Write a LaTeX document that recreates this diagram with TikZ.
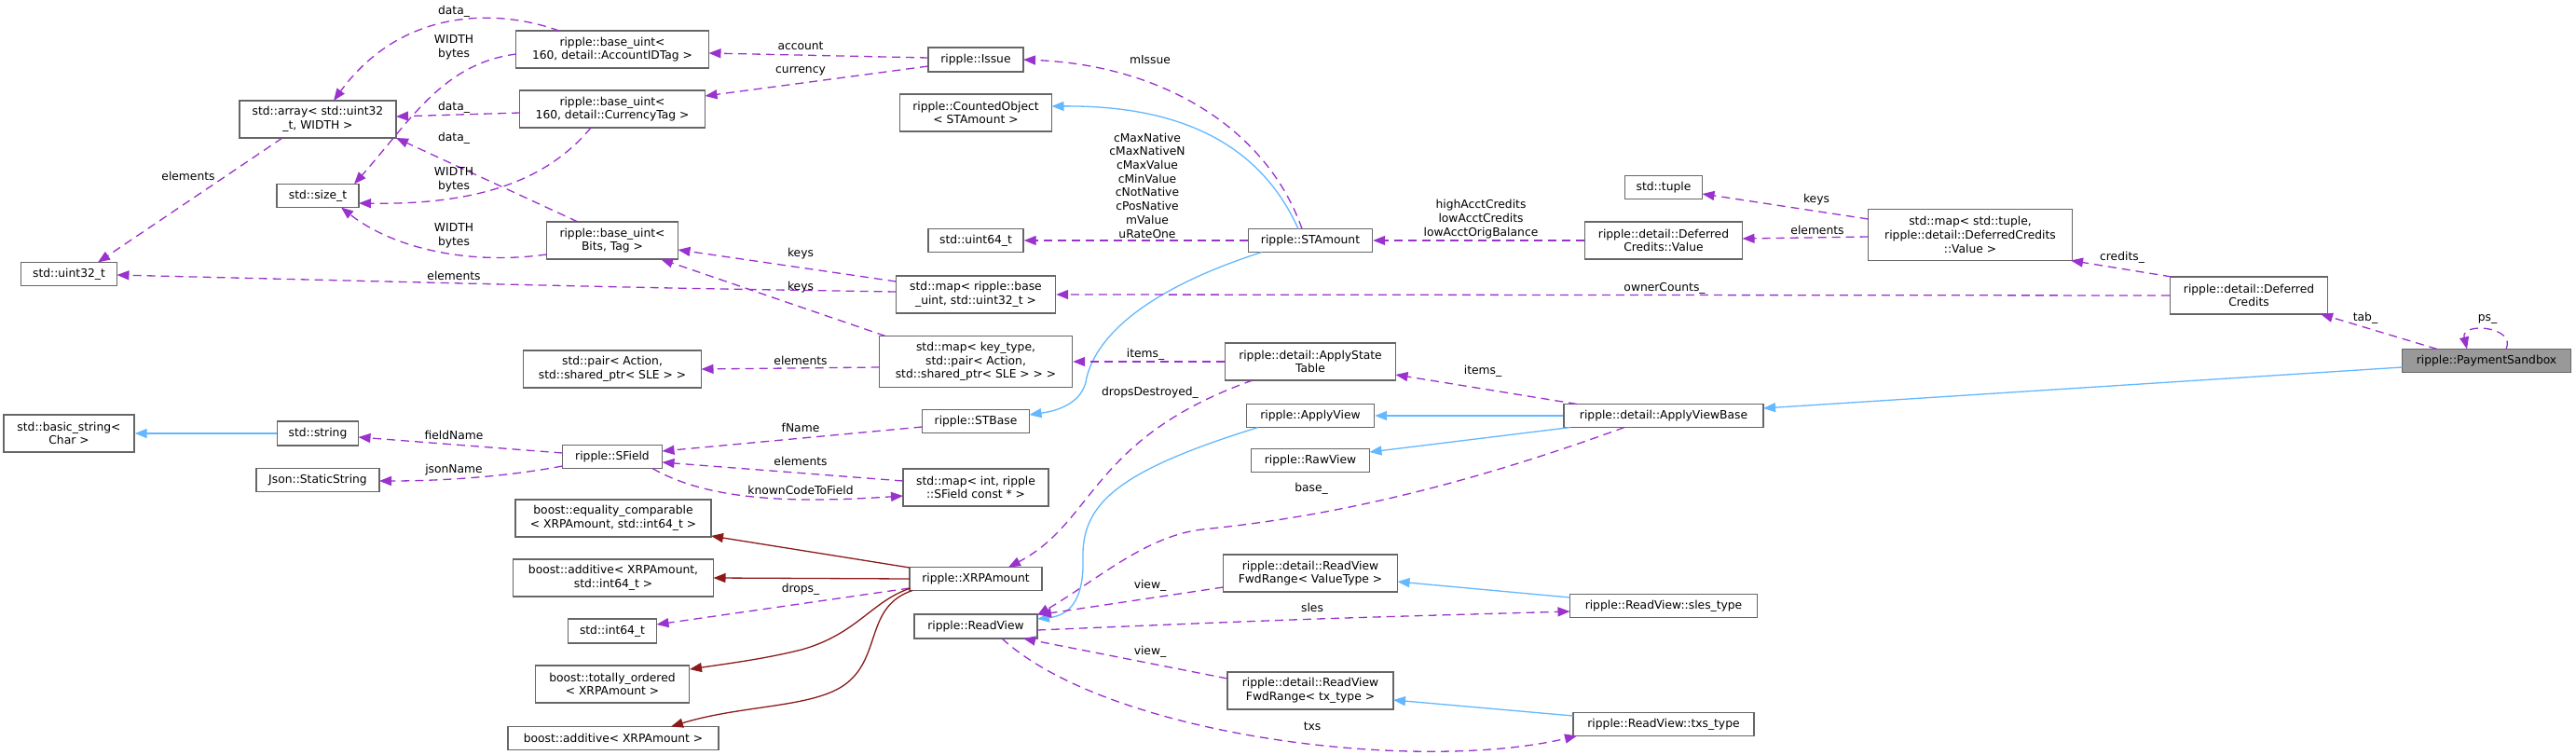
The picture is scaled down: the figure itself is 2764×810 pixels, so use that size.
\documentclass[tikz,border=0pt]{standalone}
\usepackage{fontspec}
\setmainfont{DejaVu Sans}
\usetikzlibrary{arrows.meta,calc}
\definecolor{purp}{HTML}{9A32CD}
\definecolor{inhc}{HTML}{63B8FF}
\definecolor{tmpl}{HTML}{8B1A1A}
\definecolor{bordg}{HTML}{666666}
\definecolor{psfill}{HTML}{999999}
\newcommand\dgf{\fontsize{12.3}{14.7}\selectfont}
\newcommand\nb[6]{\node[box,minimum width=#4pt,minimum height=#5pt] (#1) at (#2,#3) {#6};}
\newcommand\lb[4]{\node[lbl] (#1) at (#2,#3) {#4};}
\begin{document}
\begin{tikzpicture}[x=1pt,y=-1pt,
 box/.style={draw=bordg,line width=1.4pt,fill=white,align=center,inner sep=0pt,font=\dgf},
 lbl/.style={inner sep=0pt,align=center,font=\dgf},
 use/.style={draw=purp,line width=1.3pt,dash pattern=on 9pt off 6pt,-{Triangle[length=13pt,width=10pt]}},
 inher/.style={draw=inhc,line width=1.3pt,-{Triangle[length=13pt,width=10pt]}},
 tpl/.style={draw=tmpl,line width=1.3pt,-{Triangle[length=13pt,width=10pt]}}]
\useasboundingbox[fill=white] (0,0) rectangle (2764,810);
% nodes
\nb{arr}{341}{128}{168}{40}{std::array< std::uint32\\\_t, WIDTH >}
\nb{sizet}{341}{210}{88}{25}{std::size\_t}
\nb{u32}{74}{294}{103}{25}{std::uint32\_t}
\nb{acct}{657}{53}{207}{40}{ripple::base\_uint<\\160, detail::AccountIDTag >}
\nb{curr}{657}{117}{199}{40}{ripple::base\_uint<\\160, detail::CurrencyTag >}
\nb{bits}{657}{258}{141}{40}{ripple::base\_uint<\\Bits, Tag >}
\nb{pair}{657}{396}{191}{40}{std::pair< Action,\\std::shared\_ptr< SLE > >}
\nb{bstr}{74}{465}{140}{40}{std::basic\_string<\\Char >}
\nb{str}{341}{465}{87}{26}{std::string}
\nb{json}{341}{515}{132}{25}{Json::StaticString}
\nb{sfield}{657}{490}{107}{25}{ripple::SField}
\nb{eqc}{658}{556}{210}{40}{boost::equality\_comparable\\< XRPAmount, std::int64\_t >}
\nb{add1}{658}{620}{215}{40}{boost::additive< XRPAmount,\\std::int64\_t >}
\nb{i64}{657}{677}{95}{26}{std::int64\_t}
\nb{tot}{657}{734}{165}{40}{boost::totally\_ordered\\< XRPAmount >}
\nb{add2}{658}{792}{226}{25}{boost::additive< XRPAmount >}
\nb{issue}{1047}{64}{102}{26}{ripple::Issue}
\nb{cobj}{1047}{121}{163}{40}{ripple::CountedObject\\< STAmount >}
\nb{u64}{1047}{258}{102}{25}{std::uint64\_t}
\nb{stam}{1406}{258}{133}{25}{ripple::STAmount}
\nb{mapbu}{1047}{316}{171}{40}{std::map< ripple::base\\\_uint, std::uint32\_t >}
\nb{mapkt}{1047}{388}{207}{55}{std::map< key\_type,\\std::pair< Action,\\std::shared\_ptr< SLE > > >}
\nb{ast}{1406}{388}{183}{40}{ripple::detail::ApplyState\\Table}
\nb{stbase}{1047}{452}{115}{25}{ripple::STBase}
\nb{mapint}{1047}{523}{156}{40}{std::map< int, ripple\\::SField const * >}
\nb{xrp}{1047}{621}{142}{25}{ripple::XRPAmount}
\nb{rv}{1047}{672}{132}{26}{ripple::ReadView}
\nb{fwdv}{1406}{615}{187}{40}{ripple::detail::ReadView\\FwdRange< ValueType >}
\nb{fwdt}{1406}{741}{178}{40}{ripple::detail::ReadView\\FwdRange< tx\_type >}
\nb{av}{1406}{446}{137}{25}{ripple::ApplyView}
\nb{raw}{1406}{494}{127}{25}{ripple::RawView}
\nb{tuple}{1785}{201}{83}{25}{std::tuple}
\nb{dcv}{1785}{258}{169}{40}{ripple::detail::Deferred\\Credits::Value}
\nb{maptup}{2114}{252}{219}{55}{std::map< std::tuple,\\ripple::detail::DeferredCredits\\::Value >}
\nb{avb}{1785}{446}{214}{25}{ripple::detail::ApplyViewBase}
\nb{sles}{1785}{650}{201}{25}{ripple::ReadView::sles\_type}
\nb{txs}{1785}{777}{194}{25}{ripple::ReadView::txs\_type}
\nb{dc}{2413}{317}{169}{40}{ripple::detail::Deferred\\Credits}
\node[box,fill=psfill,minimum width=181pt,minimum height=25pt] (ps) at (2668,387) {ripple::PaymentSandbox};
% edges
\draw[use] ($(acct)+(-57,-20)$) .. controls (530,8) and (430,10) .. ($(arr)+(17,-20)$);
\draw[use] ($(acct)+(-103,5)$) .. controls (475,68) and (440,130) .. ($(sizet)+(39,-12.5)$);
\draw[use] ($(curr)+(-99,4)$) -- ($(arr)+(84,-3)$);
\draw[use] ($(curr)+(-23,20)$) .. controls (590,190) and (520,220) .. ($(sizet)+(44,8)$);
\draw[use] ($(bits)+(-37,-20)$) -- ($(arr)+(84,20)$);
\draw[use] ($(bits)+(-70.5,15)$) .. controls (500,285) and (420,265) .. ($(sizet)+(25,12.5)$);
\draw[use] ($(arr)+(-38,20)$) -- ($(u32)+(31,-12.5)$);
\draw[use] ($(mapbu)+(-85.5,-3)$) .. controls (700,309) .. ($(u32)+(51.5,1)$);
\draw[use] ($(mapbu)+(-85.5,-14)$) -- ($(bits)+(70.5,10)$);
\draw[use] ($(mapkt)+(-97,-27.5)$) -- ($(bits)+(52,20)$);
\draw[use] ($(mapkt)+(-103.5,6)$) -- ($(pair)+(95.5,0)$);
\draw[use] ($(issue)+(-51,-2)$) -- ($(acct)+(103.5,4)$);
\draw[use] ($(issue)+(-51,7)$) -- ($(curr)+(99.5,-14)$);
\draw[use] ($(stam)+(-9,-12.5)$) .. controls (1360,140) and (1250,70) .. ($(issue)+(51,0)$);
\draw[inher] ($(stam)+(-13,-12.5)$) .. controls (1350,150) and (1260,113) .. ($(cobj)+(81.5,-7)$);
\draw[use] (stam.west) -- (u64.east);
\draw[inher] ($(stam)+(-52,12.5)$) .. controls (1200,320) and (1170,380) .. (1165,410) .. controls (1160,430) and (1140,440) .. ($(stbase)+(57.5,-7)$);
\draw[use] (dcv.west) -- (stam.east);
\draw[use] ($(maptup)+(-109.5,-17)$) -- ($(tuple)+(41.5,7)$);
\draw[use] ($(maptup)+(-109.5,2)$) -- ($(dcv)+(84.5,-2)$);
\draw[use] ($(dc)+(-83,-20)$) -- ($(maptup)+(108,27.5)$);
\draw[use] (dc.west) -- (mapbu.east);
\draw[use] ($(ps)+(-53,-12.5)$) -- ($(dc)+(77,20)$);
\draw[use] ($(ps)+(21,-12.5)$) .. controls (2700,350) and (2640,345) .. ($(ps)+(-21,-12.5)$);
\draw[inher] ($(ps)+(-90.5,7)$) -- ($(avb)+(107,-8)$);
\draw[use] ($(avb)+(-93,-12.5)$) -- ($(ast)+(91.5,14)$);
\draw[inher] (avb.west) -- (av.east);
\draw[inher] ($(avb)+(-100,12.5)$) -- ($(raw)+(63.5,-9)$);
\draw[use] ($(avb)+(-42,12.5)$) .. controls (1560,525) and (1420,555) .. (1290,568) .. controls (1230,575) and (1180,620) .. ($(rv)+(66,-12)$);
\draw[use] (ast.west) -- (mapkt.east);
\draw[use] ($(ast)+(-62,20)$) .. controls (1170,470) and (1175,560) .. ($(xrp)+(35,-12.5)$);
\draw[inher] ($(av)+(-56,12.5)$) .. controls (1200,505) and (1160,540) .. (1162,600) .. controls (1163,640) and (1150,660) .. ($(rv)+(66,-8)$);
\draw[use] ($(stbase)+(-57.5,6)$) -- ($(sfield)+(53.5,-6)$);
\draw[use] ($(mapint)+(-78,-7)$) -- ($(sfield)+(53.5,6)$);
\draw[use] ($(sfield)+(43,12.5)$) .. controls (760,537) and (850,540) .. ($(mapint)+(-78,9)$);
\draw[use] ($(sfield)+(-53.5,-4)$) -- ($(str)+(43.5,4)$);
\draw[use] ($(sfield)+(-53.5,10)$) .. controls (540,512) and (470,516) .. ($(json)+(66,1)$);
\draw[inher] (str.west) -- (bstr.east);
\draw[tpl] ($(xrp)+(-71,-12)$) -- ($(eqc)+(105,19)$);
\draw[tpl] ($(xrp)+(-71,0)$) -- ($(add1)+(107.5,0)$);
\draw[use] ($(xrp)+(-71,10)$) -- ($(i64)+(47.5,-7)$);
\draw[tpl] ($(xrp)+(-70,10)$) .. controls (935,645) and (920,680) .. (860,697) .. controls (820,707) and (780,712) .. ($(tot)+(83,-16)$);
\draw[tpl] ($(xrp)+(-68,12.5)$) .. controls (930,650) and (945,700) .. (912,730) .. controls (880,760) and (800,755) .. ($(add2)+(62,-12.5)$);
\draw[use] ($(fwdv)+(-93.5,15)$) -- ($(rv)+(68,-12.5)$);
\draw[use] ($(rv)+(66,4)$) .. controls (1400,664) .. ($(sles)+(-100.5,6)$);
\draw[use] ($(fwdt)+(-89,-13)$) -- ($(rv)+(51,13)$);
\draw[use] ($(rv)+(28,13)$) .. controls (1190,790) and (1520,830) .. ($(txs)+(-93,12.5)$);
\draw[inher] ($(sles)+(-100.5,-9)$) -- ($(fwdv)+(93.5,9)$);
\draw[inher] ($(txs)+(-97,-9)$) -- ($(fwdt)+(89,10)$);
% labels
\lb{l1}{487}{12}{data\_}
\lb{l2}{487}{51}{WIDTH\\bytes}
\lb{l3}{487}{115}{data\_}
\lb{l4}{487}{148}{data\_}
\lb{l5}{487}{193}{WIDTH\\bytes}
\lb{l6}{487}{253}{WIDTH\\bytes}
\lb{l7}{202}{189}{elements}
\lb{l8}{487}{296}{elements}
\lb{l9}{859}{49}{account}
\lb{l10}{859}{76}{currency}
\lb{l11}{1234}{64}{mIssue}
\lb{l12}{1231}{199}{cMaxNative\\cMaxNativeN\\cMaxValue\\cMinValue\\cNotNative\\cPosNative\\mValue\\uRateOne}
\lb{l13}{859}{272}{keys}
\lb{l14}{859}{308}{keys}
\lb{l15}{859}{387}{elements}
\lb{l16}{1229}{380}{items\_}
\lb{l17}{1589}{235}{highAcctCredits\\lowAcctCredits\\lowAcctOrigBalance}
\lb{l18}{1949}{214}{keys}
\lb{l19}{1950}{247}{elements}
\lb{l20}{1786}{309}{ownerCounts\_}
\lb{l21}{2277}{276}{credits\_}
\lb{l22}{2538}{341}{tab\_}
\lb{l23}{2669}{343}{ps\_}
\lb{l24}{1591}{398}{items\_}
\lb{l25}{1407}{524}{base\_}
\lb{l26}{1408}{652}{sles}
\lb{l27}{1408}{779}{txs}
\lb{l28}{1234}{421}{dropsDestroyed\_}
\lb{l29}{859}{459}{fName}
\lb{l30}{859}{495}{elements}
\lb{l31}{859}{526}{knownCodeToField}
\lb{l32}{859}{632}{drops\_}
\lb{l33}{1234}{628}{view\_}
\lb{l34}{1234}{699}{view\_}
\lb{l35}{487}{467}{fieldName}
\lb{l36}{487}{504}{jsonName}
\end{tikzpicture}
\end{document}
